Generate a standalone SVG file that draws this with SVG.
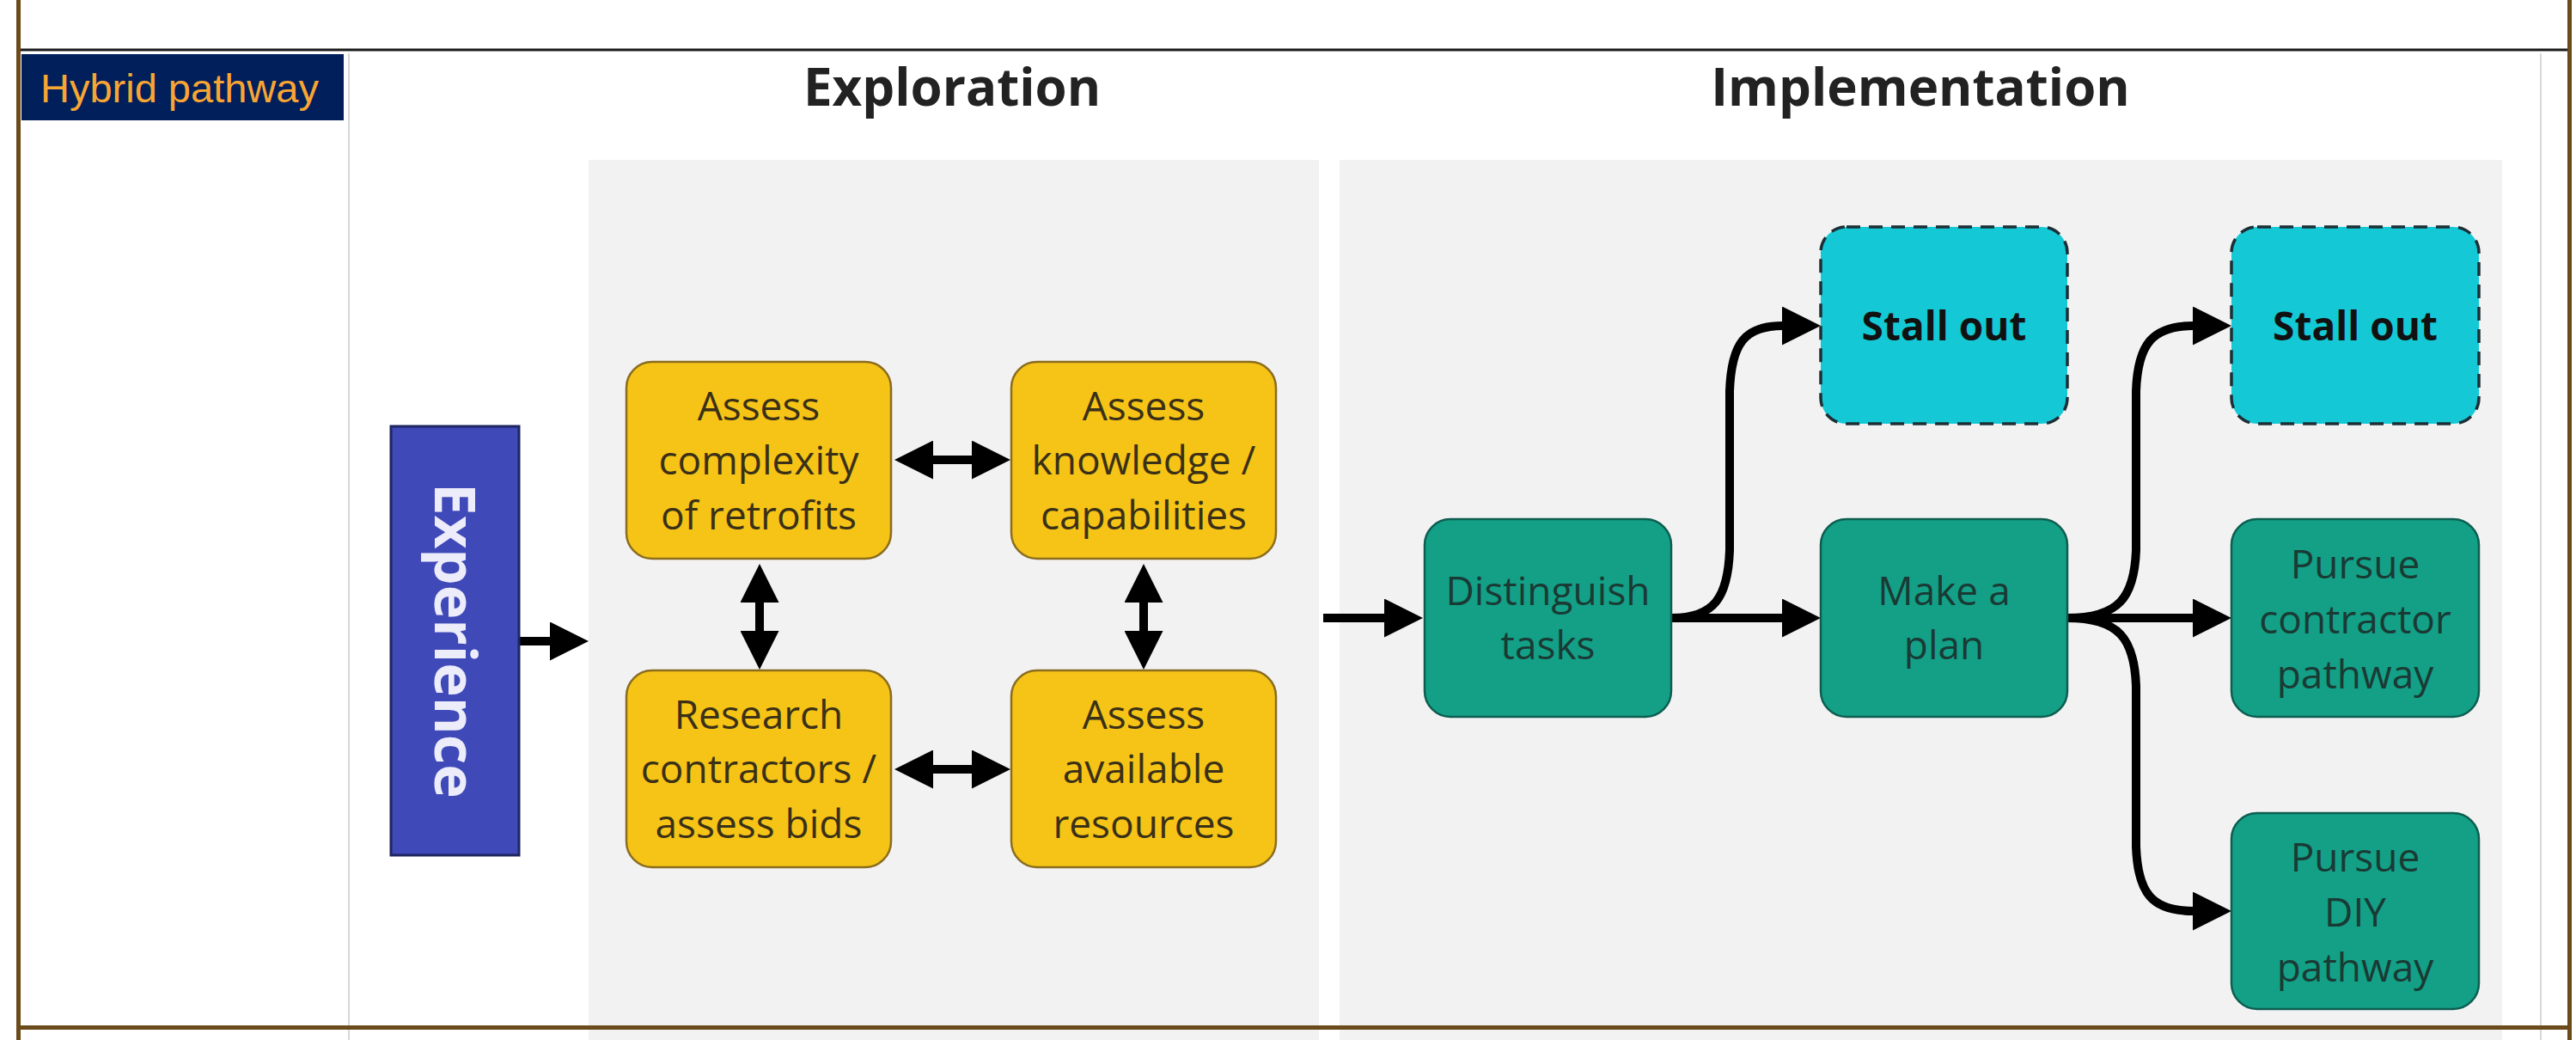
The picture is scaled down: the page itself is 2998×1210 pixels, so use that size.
<svg xmlns="http://www.w3.org/2000/svg" width="2998" height="1210" viewBox="0 0 2998 1210">
<defs>
<style>
.title{font-family:"Open Sans","DejaVu Sans",sans-serif;font-weight:700;font-size:60px;fill:#222;text-anchor:middle}
.nt{font-family:"Open Sans","DejaVu Sans",sans-serif;font-size:46px;text-anchor:middle}
.yl{fill:#f6c416;stroke:#8a6d1f;stroke-width:2.5}
.gr{fill:#13a087;stroke:#0d5e50;stroke-width:2.5}
.cy{fill:#14c9d5;stroke:#1c2f36;stroke-width:3.5;stroke-dasharray:16 10}
.ytx{fill:#3a3018}
.gtx{fill:#1a3a34}
.stx{fill:#111;font-weight:700}
.conn path{fill:none;stroke:#000;stroke-width:10}
.panel{fill:#f3f2f3}
</style>
<marker id="ah" viewBox="0 0 45 45" refX="1" refY="22.5" markerWidth="45" markerHeight="45" markerUnits="userSpaceOnUse" orient="auto-start-reverse">
<path d="M0,0 L45,22.5 L0,45 z" fill="#000"/>
</marker>
</defs>
<rect width="2998" height="1210" fill="#fff"/>
<!-- panels -->
<rect class="panel" x="685" y="186" width="850" height="1024"/>
<rect class="panel" x="1559" y="186" width="1353" height="1024"/>
<!-- table lines -->
<rect x="405" y="62" width="2" height="1148" fill="#d8d8d8"/>
<rect x="2956" y="62" width="2" height="1148" fill="#d8d8d8"/>
<rect x="22" y="56.5" width="2968" height="3" fill="#1a1a1a"/>
<rect x="19" y="0" width="5" height="1210" fill="#6b4a1c"/>
<rect x="2988" y="0" width="5" height="1210" fill="#6b4a1c"/>
<rect x="19" y="1193" width="2974" height="5" fill="#6b4a1c"/>
<!-- label -->
<g id="label">
<rect x="25" y="63" width="375" height="77" fill="#001f5b"/>
<text x="47" y="119" font-family="'Liberation Sans',Arial,sans-serif" font-size="47" fill="#f9a533">Hybrid pathway</text>
</g>
<text class="title" x="1108" y="123">Exploration</text>
<text class="title" x="2235" y="123">Implementation</text>
<!-- connectors -->
<g id="connectors" class="conn">
<path d="M604,746 L641,746" marker-end="url(#ah)"/>
<path d="M1085,535 L1132,535" marker-start="url(#ah)" marker-end="url(#ah)"/>
<path d="M1085,895 L1132,895" marker-start="url(#ah)" marker-end="url(#ah)"/>
<path d="M884,700 L884,735" marker-start="url(#ah)" marker-end="url(#ah)"/>
<path d="M1331,700 L1331,735" marker-start="url(#ah)" marker-end="url(#ah)"/>
<path d="M1540,719 L1612,719" marker-end="url(#ah)"/>
<path d="M1946,719 L2075,719" marker-end="url(#ah)"/>
<path d="M1946,719 C1995,719 2011,695 2013,640 L2013,455 C2015,400 2030,379 2075,379" marker-end="url(#ah)"/>
<path d="M2406,719 L2553,719" marker-end="url(#ah)"/>
<path d="M2406,719 C2466,719 2484,695 2486,640 L2486,455 C2488,400 2505,379 2553,379" marker-end="url(#ah)"/>
<path d="M2406,719 C2466,719 2484,743 2486,798 L2486,985 C2488,1040 2505,1060 2553,1060" marker-end="url(#ah)"/>
</g>
<!-- nodes -->
<g id="experience">
<rect x="455" y="496" width="149" height="499" fill="#3f49b8" stroke="#1f2660" stroke-width="3"/>
<text transform="translate(529.5,745.5) rotate(90)" y="24" text-anchor="middle" font-family="'Open Sans','DejaVu Sans',sans-serif" font-weight="700" font-size="67" fill="#ececfa">Experience</text>
</g>
<g id="assess-complexity">
<rect class="yl" x="729" y="421" width="308" height="229" rx="30"/>
<text class="nt ytx" x="883" y="489">Assess</text>
<text class="nt ytx" x="883" y="552">complexity</text>
<text class="nt ytx" x="883" y="616">of retrofits</text>
</g>
<g id="assess-knowledge">
<rect class="yl" x="1177" y="421" width="308" height="229" rx="30"/>
<text class="nt ytx" x="1331" y="489">Assess</text>
<text class="nt ytx" x="1331" y="552">knowledge /</text>
<text class="nt ytx" x="1331" y="616">capabilities</text>
</g>
<g id="research-contractors">
<rect class="yl" x="729" y="780" width="308" height="229" rx="30"/>
<text class="nt ytx" x="883" y="848">Research</text>
<text class="nt ytx" x="883" y="911">contractors /</text>
<text class="nt ytx" x="883" y="975">assess bids</text>
</g>
<g id="assess-resources">
<rect class="yl" x="1177" y="780" width="308" height="229" rx="30"/>
<text class="nt ytx" x="1331" y="848">Assess</text>
<text class="nt ytx" x="1331" y="911">available</text>
<text class="nt ytx" x="1331" y="975">resources</text>
</g>
<g id="distinguish-tasks">
<rect class="gr" x="1658" y="604" width="287" height="230" rx="30"/>
<text class="nt gtx" x="1801.5" y="704">Distinguish</text>
<text class="nt gtx" x="1801.5" y="767">tasks</text>
</g>
<g id="make-plan">
<rect class="gr" x="2119" y="604" width="287" height="230" rx="30"/>
<text class="nt gtx" x="2262.5" y="704">Make a</text>
<text class="nt gtx" x="2262.5" y="767">plan</text>
</g>
<g id="stall-out-1">
<rect class="cy" x="2119" y="264" width="287" height="229" rx="30"/>
<text class="nt stx" x="2262.5" y="396">Stall out</text>
</g>
<g id="stall-out-2">
<rect class="cy" x="2597" y="264" width="288" height="229" rx="30"/>
<text class="nt stx" x="2741" y="396">Stall out</text>
</g>
<g id="pursue-contractor">
<rect class="gr" x="2597" y="604" width="288" height="230" rx="30"/>
<text class="nt gtx" x="2741" y="673">Pursue</text>
<text class="nt gtx" x="2741" y="737">contractor</text>
<text class="nt gtx" x="2741" y="801">pathway</text>
</g>
<g id="pursue-diy">
<rect class="gr" x="2597" y="946" width="288" height="228" rx="30"/>
<text class="nt gtx" x="2741" y="1014">Pursue</text>
<text class="nt gtx" x="2741" y="1078">DIY</text>
<text class="nt gtx" x="2741" y="1142">pathway</text>
</g>
</svg>
